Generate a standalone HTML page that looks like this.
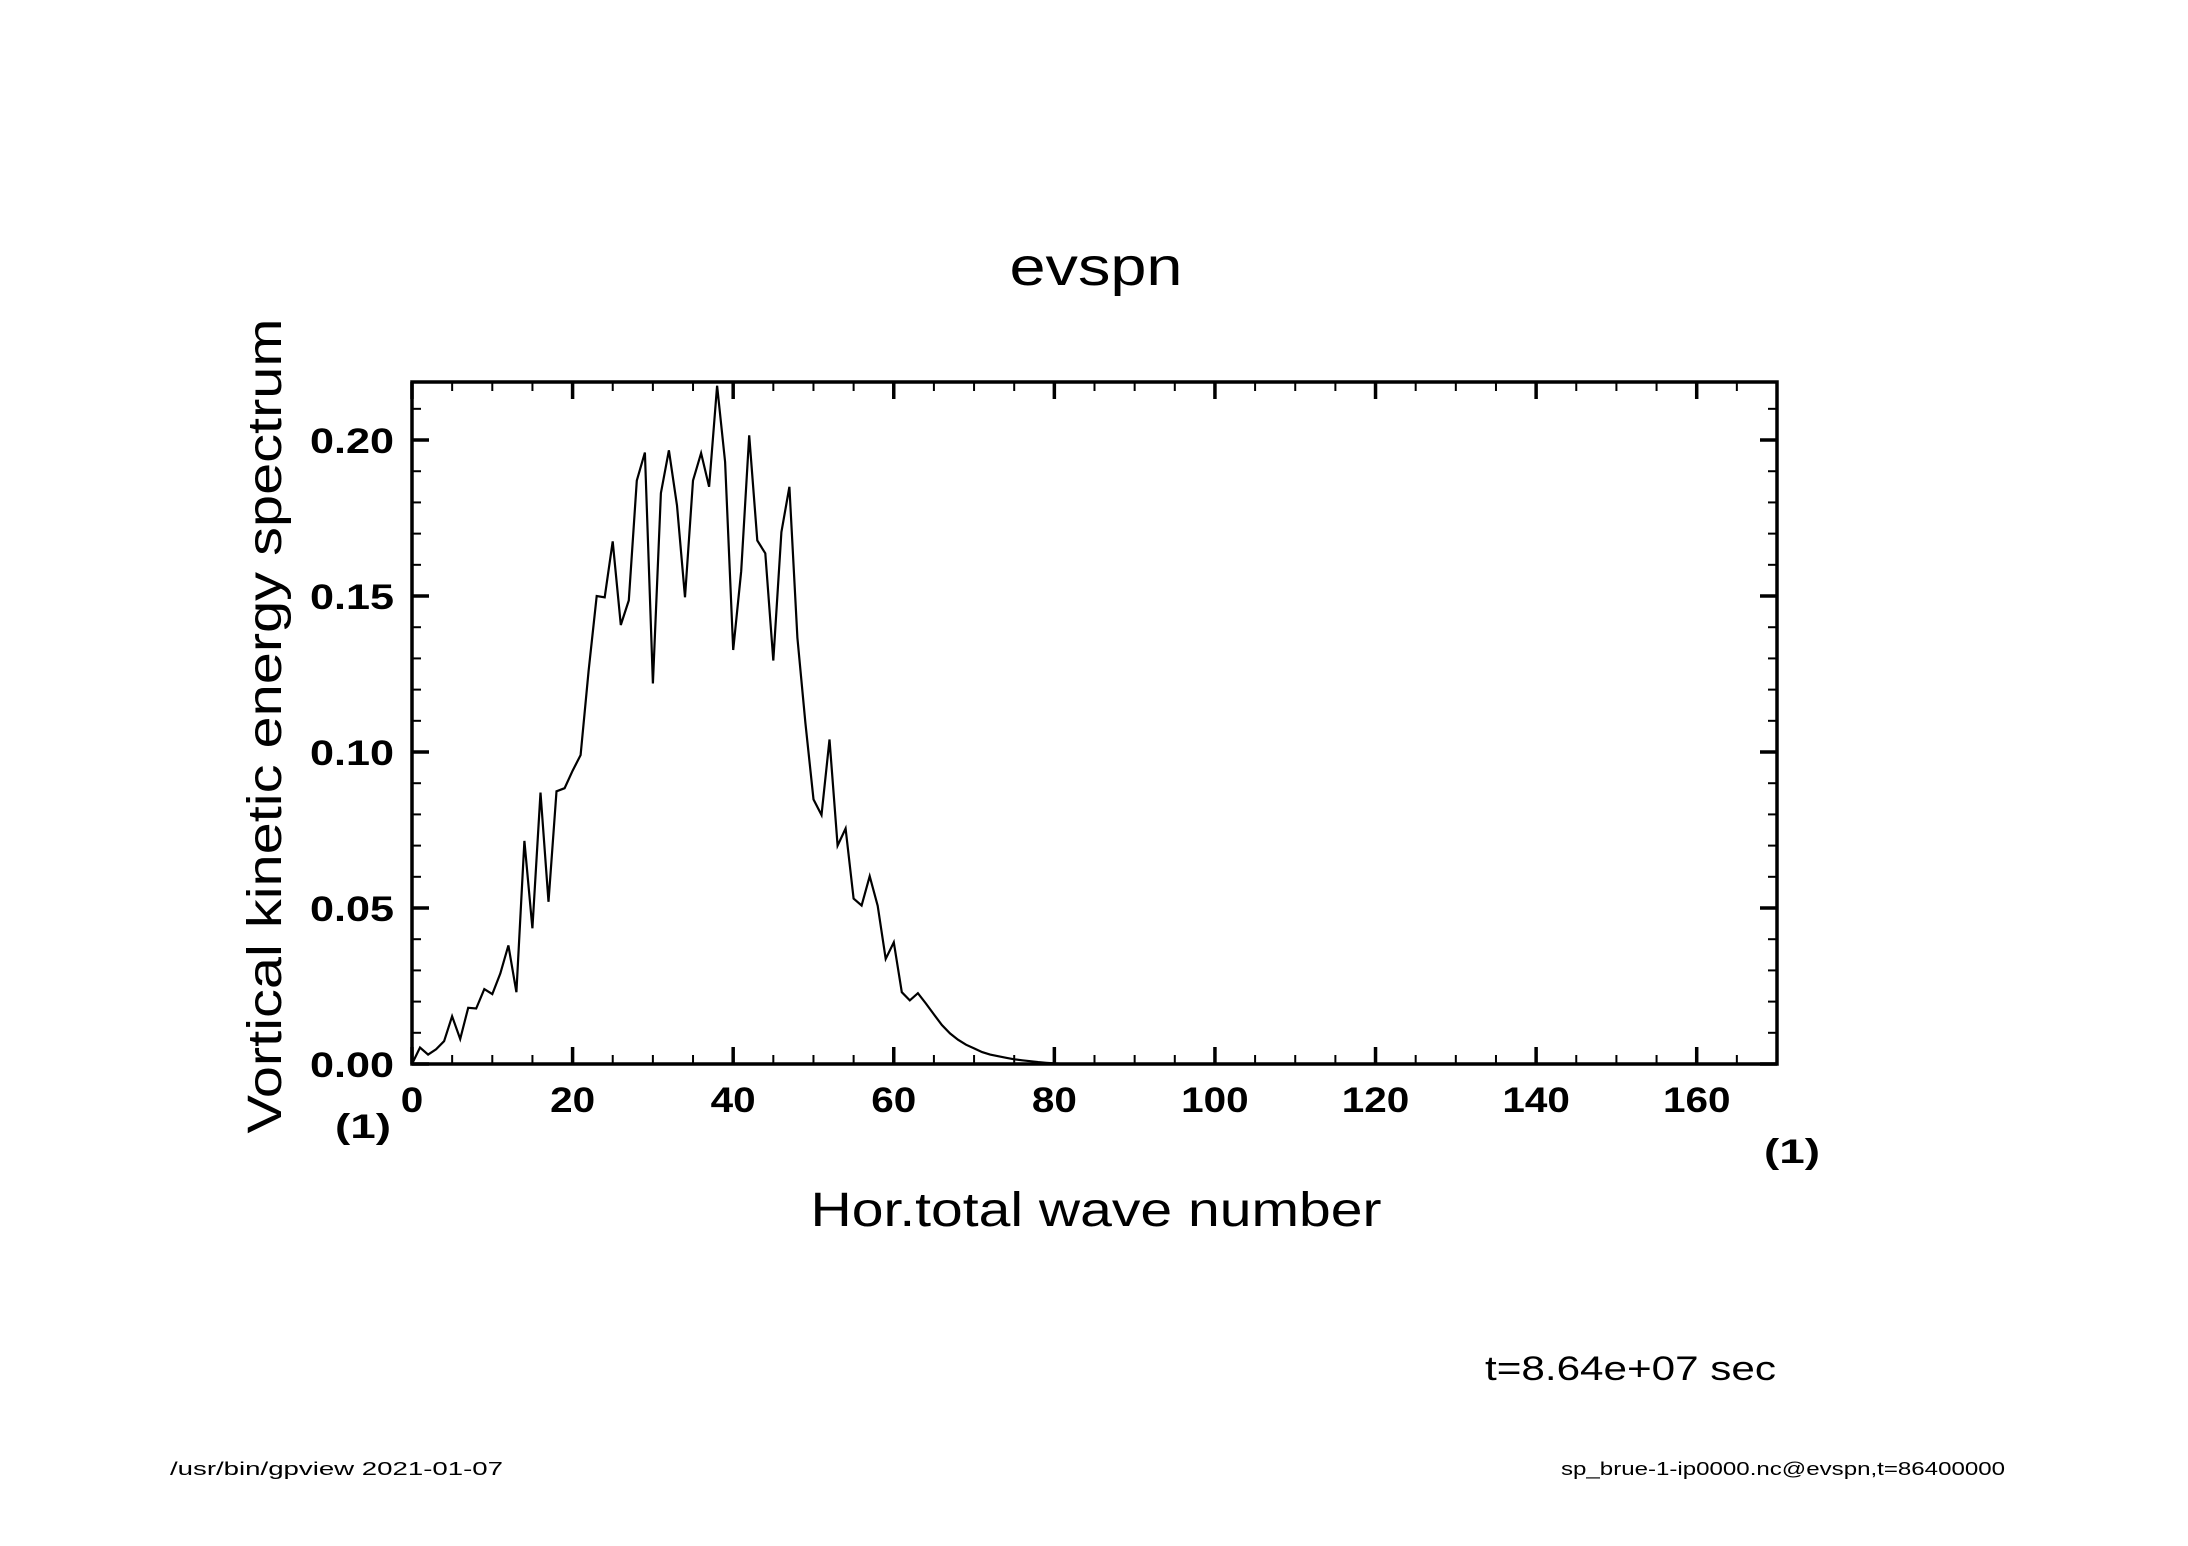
<!DOCTYPE html>
<html><head><meta charset="utf-8"><style>
html,body{margin:0;padding:0;background:#fff;}
svg{display:block;font-family:"Liberation Sans",sans-serif;}
</style></head><body>
<svg id="chart" width="2188" height="1546" viewBox="0 0 2188 1546" xmlns="http://www.w3.org/2000/svg">
<rect width="2188" height="1546" fill="#fff"/>
<text x="1096" y="285" font-size="54" text-anchor="middle" textLength="173" lengthAdjust="spacingAndGlyphs">evspn</text>
<text transform="translate(281,726) rotate(-90)" font-size="48" text-anchor="middle" textLength="815" lengthAdjust="spacingAndGlyphs">Vortical kinetic energy spectrum</text>
<text x="1096" y="1226" font-size="48" text-anchor="middle" textLength="571" lengthAdjust="spacingAndGlyphs">Hor.total wave number</text>
<text x="363" y="1138" font-size="34" font-weight="bold" text-anchor="middle" textLength="56" lengthAdjust="spacingAndGlyphs">(1)</text>
<text x="1792" y="1163" font-size="34" font-weight="bold" text-anchor="middle" textLength="56" lengthAdjust="spacingAndGlyphs">(1)</text>
<text x="1485" y="1380" font-size="34" textLength="291" lengthAdjust="spacingAndGlyphs">t=8.64e+07 sec</text>
<text x="170" y="1475" font-size="18" textLength="333" lengthAdjust="spacingAndGlyphs">/usr/bin/gpview   2021-01-07</text>
<text x="1561" y="1475" font-size="18" textLength="444" lengthAdjust="spacingAndGlyphs">sp_brue-1-ip0000.nc@evspn,t=86400000</text>
<g id="axes"></g>
<g id="series"></g>
</svg>
<script>
const xTickValues=[0,20,40,60,80,100,120,140,160];
const xTickLabels=["0","20","40","60","80","100","120","140","160"];
const yTickValues=[0,0.05,0.10,0.15,0.20];
const yTickLabels=["0.00","0.05","0.10","0.15","0.20"];
const waveNumbers=[];for(let i=0;i<=170;i++)waveNumbers.push(i);
const energyValues=[0,0.0053,0.003,0.0047,0.0073,0.0153,0.008,0.018,0.0178,0.024,0.0224,0.029,0.038,0.023,0.0715,0.0435,0.087,0.052,0.0874,0.0884,
0.094,0.099,0.126,0.150,0.1496,0.1675,0.1407,0.1486,0.187,0.196,0.122,0.183,0.1967,0.179,0.1496,0.187,0.1958,0.185,0.2174,0.193,
0.1327,0.158,0.2015,0.1678,0.1637,0.1293,0.1705,0.185,0.1366,0.1093,0.0848,0.0798,0.104,0.070,0.0755,0.053,0.0508,0.0602,0.0507,0.0337,
0.039,0.023,0.0204,0.0227,0.0194,0.0159,0.0125,0.0098,0.0078,0.0062,0.005,0.0038,0.003,0.0025,0.002,0.0015,0.0012,0.0009,0.0006,0.0004,
0.0002,0.0001,0,0,0,0,0,0,0,0,0,0,0,0,0,0,0,0,0,0,
0,0,0,0,0,0,0,0,0,0,0,0,0,0,0,0,0,0,0,0,
0,0,0,0,0,0,0,0,0,0,0,0,0,0,0,0,0,0,0,0,
0,0,0,0,0,0,0,0,0,0,0,0,0,0,0,0,0,0,0,0,
0,0,0,0,0,0,0,0,0,0,0];
const NS="http://www.w3.org/2000/svg";
const L=412,R=1777,T=382,B=1064,XMIN=0,XMAX=170,YMIN=0,YMAX=0.2186;
const xs=v=>L+(v-XMIN)/(XMAX-XMIN)*(R-L);
const ys=v=>B-(v-YMIN)/(YMAX-YMIN)*(B-T);
const axes=document.getElementById('axes');
function mk(tag,attrs,parent){const e=document.createElementNS(NS,tag);for(const k in attrs)e.setAttribute(k,attrs[k]);parent.appendChild(e);return e;}
const frame=mk('rect',{x:L,y:T,width:R-L,height:B-T,fill:'none',stroke:'#000','stroke-width':3.5},axes);


for(let v=0;v<=170;v+=5){
  const major=v%20===0;const len=major?17:9;const x=xs(v);
  const t1=mk('line',{x1:x,x2:x,y1:B,y2:B-len,stroke:'#000','stroke-width':major?3.5:2},axes);
  
  
  const t2=mk('line',{x1:x,x2:x,y1:T,y2:T+len,stroke:'#000','stroke-width':major?3.5:2},axes);
  
  
}
for(let k=0;k<=21;k++){
  const v=k*0.01;const major=k%5===0;const len=major?17:9;const y=ys(v);
  const t1=mk('line',{x1:L,x2:L+len,y1:y,y2:y,stroke:'#000','stroke-width':major?3.5:2},axes);
  
  
  const t2=mk('line',{x1:R,x2:R-len,y1:y,y2:y,stroke:'#000','stroke-width':major?3.5:2},axes);
  
  
}
xTickValues.forEach((v,i)=>{
  const s=xTickLabels[i];
  const t=mk('text',{x:xs(v),y:B+48,'font-size':35,'font-weight':'bold','text-anchor':'middle',textLength:s.length*22.5,lengthAdjust:'spacingAndGlyphs'},axes);
  t.textContent=s;
  
  
});
yTickValues.forEach((v,i)=>{
  const t=mk('text',{x:L-18,y:ys(v)+13,'font-size':35,'font-weight':'bold','text-anchor':'end',textLength:84,lengthAdjust:'spacingAndGlyphs'},axes);
  t.textContent=yTickLabels[i];
  
  
});
const pts=waveNumbers.map((n,i)=>xs(n).toFixed(1)+','+ys(energyValues[i]).toFixed(1)).join(' ');
const line=mk('polyline',{points:pts,fill:'none',stroke:'#000','stroke-width':2.2,'stroke-linejoin':'miter'},document.getElementById('series'));


</script>
</body></html>
